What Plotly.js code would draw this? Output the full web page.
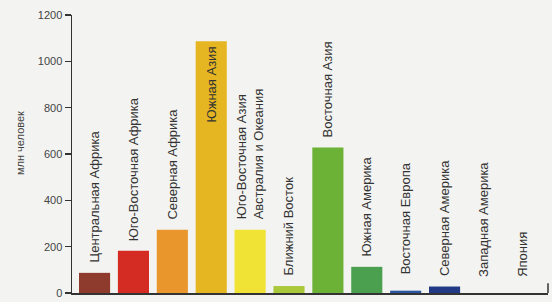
<!DOCTYPE html>
<html><head><meta charset="utf-8">
<script src="https://cdn.plot.ly/plotly-3.0.1.min.js"></script>
<style>html,body{margin:0;padding:0;background:#f3f3f1}</style>
</head><body>
<div id="chart" style="width:552px;height:302px"></div>
<script>
const regions = ["Центральная Африка","Юго-Восточная Африка","Северная Африка","Южная Азия","Юго-Восточная Азия<br>Австралия и Океания","Ближний Восток","Восточная Азия","Южная Америка","Восточная Европа","Северная Америка","Западная Америка","Япония"];
const values = [87, 182, 273, 1087, 273, 30, 628, 113, 10, 28, 0, 0];
const colors = ["#8e3a2c","#d42b22","#e9962c","#e6b522","#f1e236","#a9c83a","#6cb236","#4aa04e","#2a55a3","#223a86","#2a55a3","#2a55a3"];
const insideLabel = [false,false,false,true,false,false,false,false,false,false,false,false];

const x = regions.map((_, i) => i);
const font = "Liberation Sans Narrow, Arial Narrow, Liberation Sans, Arial, sans-serif";

const annotations = regions.map((r, i) => insideLabel[i] ? {
  x: i, y: values[i], xref: 'x', yref: 'y', text: r, showarrow: false,
  textangle: -90, xanchor: 'center', yanchor: 'top', yshift: -3, align: 'left',
  font: {family: font, size: 13, color: '#333'}
} : {
  x: i, y: values[i], xref: 'x', yref: 'y', text: r, showarrow: false,
  textangle: -90, xanchor: 'center', yanchor: 'bottom', yshift: values[i] < 20 ? 14 : 8, align: 'left',
  font: {family: font, size: 13, color: '#333'}
});
annotations.push({
  xref: 'paper', yref: 'paper', x: -0.109, y: 0.54, text: 'млн человек', showarrow: false,
  textangle: -90, xanchor: 'center', yanchor: 'middle', font: {family: font, size: 11, color: '#444'}
});

Plotly.newPlot('chart', [{
  type: 'bar', x: x, y: values, width: 0.8,
  marker: {color: colors, line: {width: 0}}, hoverinfo: 'skip'
}], {
  width: 552, height: 302,
  margin: {l: 72, r: 4, t: 15, b: 9},
  paper_bgcolor: '#f3f3f1', plot_bgcolor: '#f3f3f1',
  showlegend: false,
  xaxis: {range: [-0.58, 11.66], showline: true, linecolor: '#333', linewidth: 1.5,
    showticklabels: false, ticks: '', showgrid: false, zeroline: false, fixedrange: true},
  yaxis: {range: [0, 1200], showline: true, linecolor: '#333', linewidth: 1.5,
    ticks: 'outside', ticklen: 6, tickcolor: '#333', tickwidth: 1.5,
    tickvals: [0, 200, 400, 600, 800, 1000, 1200], showgrid: false, zeroline: false,
    tickfont: {family: font, size: 11, color: '#444'}},
  annotations: annotations,
  shapes: [{type: 'line', xref: 'paper', yref: 'paper', x0: 1, x1: 1, y0: 0, y1: 0.035,
    line: {color: '#333', width: 1.5}}]
}, {displayModeBar: false, staticPlot: true});
</script>
</body></html>
